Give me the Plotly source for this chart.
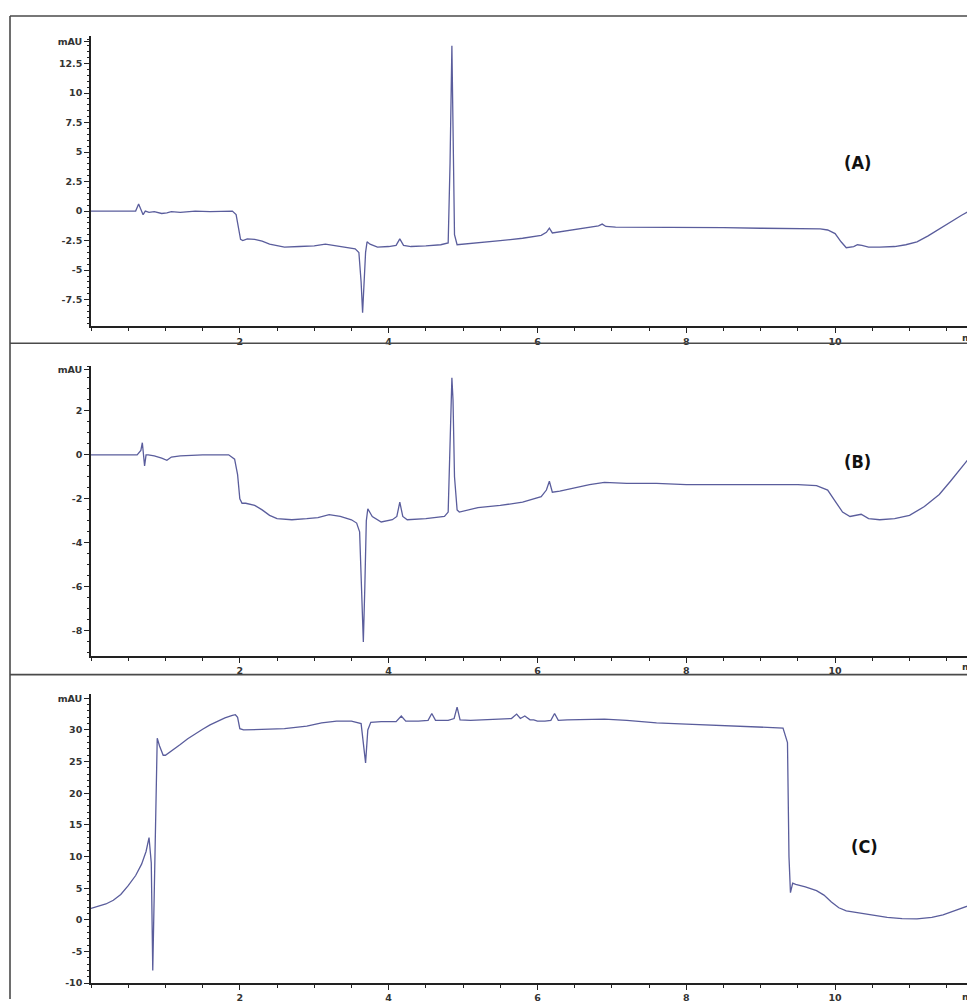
import plotly.graph_objects as go

# ---------------- data (retention time in min, signal in mAU) ----------------
time_A = [0, 0.6, 0.64, 0.67, 0.70, 0.73, 0.78, 0.85, 0.95, 1.02, 1.08, 1.2, 1.4, 1.6, 1.8, 1.9,
          1.95, 1.98, 2.01, 2.04, 2.1, 2.2, 2.3, 2.4, 2.5, 2.6, 2.8, 3.0, 3.15, 3.3, 3.45, 3.55,
          3.6, 3.63, 3.65, 3.67, 3.69, 3.71, 3.75, 3.85, 4.0, 4.1, 4.15, 4.2, 4.3, 4.5, 4.7,
          4.8, 4.825, 4.85, 4.865, 4.885, 4.92, 5.2, 5.5, 5.8, 6.05, 6.12, 6.16, 6.2, 6.3,
          6.5, 6.7, 6.82, 6.87, 6.92, 7.05, 7.5, 8.0, 8.5, 9.0, 9.5, 9.8, 9.9, 10.0, 10.08,
          10.15, 10.25, 10.3, 10.36, 10.45, 10.6, 10.8, 10.95, 11.1, 11.25, 11.4, 11.55, 11.7,
          11.8, 11.88]
mau_A = [0, 0, 0.6, 0.1, -0.3, 0.0, -0.1, -0.05, -0.2, -0.15, -0.05, -0.1, 0, -0.05, 0, 0,
         -0.3, -1.5, -2.4, -2.5, -2.35, -2.4, -2.55, -2.8, -2.95, -3.05, -3.0, -2.95, -2.8,
         -2.95, -3.05, -3.2, -3.5, -6.0, -8.6, -6.5, -3.5, -2.6, -2.8, -3.05, -3.0, -2.9, -2.35,
         -2.9, -3.0, -2.95, -2.85, -2.7, 4.0, 14.0, 8.0, -2.0, -2.85, -2.7, -2.5, -2.3, -2.05,
         -1.8, -1.45, -1.85, -1.75, -1.55, -1.35, -1.25, -1.1, -1.3, -1.35, -1.35, -1.4, -1.4,
         -1.45, -1.45, -1.5, -1.6, -1.9, -2.6, -3.1, -3.0, -2.85, -2.9, -3.05, -3.05, -3.0,
         -2.85, -2.6, -2.1, -1.5, -0.9, -0.35, 0.0, 0.2]

time_B = [0, 0.62, 0.67, 0.69, 0.72, 0.74, 0.77, 0.85, 0.95, 1.02, 1.08, 1.2, 1.5, 1.85,
          1.93, 1.97, 2.0, 2.03, 2.08, 2.2, 2.3, 2.4, 2.5, 2.7, 2.9, 3.05, 3.2, 3.35, 3.5, 3.57,
          3.61, 3.64, 3.66, 3.68, 3.70, 3.72, 3.78, 3.9, 4.05, 4.11, 4.15, 4.19, 4.25, 4.5,
          4.75, 4.80, 4.825, 4.85, 4.865, 4.885, 4.92, 4.95, 5.2, 5.5, 5.8, 6.05, 6.12, 6.16,
          6.2, 6.3, 6.5, 6.7, 6.9, 7.2, 7.6, 8.0, 8.5, 9.0, 9.5, 9.75, 9.9, 10.0, 10.1, 10.2,
          10.28, 10.35, 10.45, 10.6, 10.8, 11.0, 11.2, 11.4, 11.55, 11.7, 11.8, 11.88]
mau_B = [0, 0, 0.2, 0.55, -0.5, 0, 0, -0.05, -0.15, -0.25, -0.1, -0.05, 0, 0, -0.2, -0.9,
         -2.0, -2.2, -2.2, -2.3, -2.5, -2.75, -2.9, -2.95, -2.9, -2.85, -2.72, -2.8, -2.95,
         -3.1, -3.5, -6.5, -8.5, -6.0, -3.0, -2.45, -2.8, -3.05, -2.95, -2.8, -2.15, -2.8,
         -2.95, -2.9, -2.8, -2.6, 1.0, 3.5, 2.5, -1.0, -2.5, -2.6, -2.4, -2.3, -2.15, -1.9,
         -1.6, -1.2, -1.7, -1.65, -1.5, -1.35, -1.25, -1.3, -1.3, -1.35, -1.35, -1.35, -1.35,
         -1.4, -1.6, -2.1, -2.6, -2.8, -2.75, -2.7, -2.9, -2.95, -2.9, -2.75, -2.35, -1.8,
         -1.2, -0.55, -0.15, 0.1]

time_C = [0, 0.1, 0.2, 0.3, 0.4, 0.5, 0.6, 0.68, 0.74, 0.78, 0.81, 0.83, 0.85, 0.87, 0.89,
          0.92, 0.97, 1.0, 1.1, 1.2, 1.3, 1.4, 1.5, 1.6, 1.7, 1.8, 1.9, 1.94, 1.97, 2.0, 2.05,
          2.3, 2.6, 2.9, 3.1, 3.3, 3.5, 3.63, 3.66, 3.69, 3.72, 3.76, 3.9, 4.1, 4.17, 4.23,
          4.4, 4.53, 4.58, 4.63, 4.8, 4.88, 4.92, 4.96, 5.1, 5.4, 5.65, 5.72, 5.77, 5.83, 5.9,
          5.95, 6.0, 6.1, 6.18, 6.23, 6.28, 6.4, 6.6, 6.9, 7.2, 7.6, 8.0, 8.5, 9.0, 9.3, 9.36,
          9.38, 9.40, 9.43, 9.47, 9.6, 9.75, 9.85, 9.95, 10.05, 10.15, 10.3, 10.5, 10.7, 10.9,
          11.1, 11.3, 11.45, 11.6, 11.75, 11.88]
mau_C = [1.8, 2.1, 2.5, 3.1, 4.0, 5.4, 7.0, 8.8, 10.8, 13.0, 9.0, -8.0, 5.0, 20.0, 28.7,
         27.5, 26.0, 26.0, 26.8, 27.7, 28.6, 29.4, 30.1, 30.8, 31.4, 31.9, 32.3, 32.4, 32.0,
         30.2, 30.0, 30.1, 30.2, 30.6, 31.1, 31.4, 31.4, 31.0, 28.0, 24.8, 30.0, 31.2, 31.3,
         31.3, 32.2, 31.4, 31.4, 31.5, 32.6, 31.5, 31.5, 31.8, 33.6, 31.6, 31.5, 31.6, 31.8,
         32.5, 31.8, 32.2, 31.6, 31.6, 31.4, 31.4, 31.5, 32.6, 31.5, 31.6, 31.6, 31.7, 31.5,
         31.1, 30.9, 30.7, 30.5, 30.3, 28.0, 10.0, 4.3, 5.8, 5.6, 5.2, 4.6, 3.9, 2.8, 1.9,
         1.4, 1.1, 0.7, 0.4, 0.2, 0.15, 0.4, 0.8, 1.4, 2.0, 2.6]

panel_labels = ["(A)", "(B)", "(C)"]
x_tick_vals = [2, 4, 6, 8, 10]
y_ticks_A = [-7.5, -5, -2.5, 0, 2.5, 5, 7.5, 10, 12.5]
y_ticks_B = [-8, -6, -4, -2, 0, 2]
y_ticks_C = [-10, -5, 0, 5, 10, 15, 20, 25, 30]
unit_pos = [14.35, 3.89, 35.0]

for a, b in [(time_A, mau_A), (time_B, mau_B), (time_C, mau_C)]:
    assert len(a) == len(b), (len(a), len(b))

# ---------------- figure ----------------
# the page body has an 8px margin, so positions are measured from the screenshot and shifted
OFF = 8
W, H = 975 - OFF, 1004 - OFF


def fx(p):
    return (p - OFF) / W


def fy(p):
    return 1 - (p - OFF) / H


LINE = "#5a5d9c"
AX = "#222222"
tickfont = dict(family="DejaVu Sans, Liberation Sans, sans-serif", size=9.5, color="#333333",
                weight="bold")

fig = go.Figure()
series = [(time_A, mau_A), (time_B, mau_B), (time_C, mau_C)]
for i, (t, v) in enumerate(series):
    sfx = "" if i == 0 else str(i + 1)
    fig.add_trace(go.Scatter(x=t, y=v, mode="lines", line=dict(color=LINE, width=1.3),
                             xaxis="x" + sfx, yaxis="y" + sfx, showlegend=False,
                             hoverinfo="x+y"))

ydomains = [[fy(326), fy(33)], [fy(658), fy(366)], [fy(988), fy(697)]]
yranges = [[-9.77, 14.85], [-9.13, 4.03], [-10, 35.6]]
yticks = [y_ticks_A, y_ticks_B, y_ticks_C]
yminor = [0.5, 0.5, 1]
xdomain = [fx(91), 1]

layout = dict(width=W, height=H, margin=dict(l=0, r=0, t=0, b=0),
              paper_bgcolor="white", plot_bgcolor="white")
for i in range(3):
    sfx = "" if i == 0 else str(i + 1)
    layout["xaxis" + sfx] = dict(
        domain=xdomain, range=[0, 11.88], anchor="y" + sfx,
        showgrid=False, zeroline=False, showline=True, linecolor=AX, linewidth=1.5,
        tickmode="array", tickvals=x_tick_vals, ticktext=[str(x) for x in x_tick_vals],
        ticks="outside", ticklen=5, tickwidth=1.2, tickcolor=AX, tickfont=tickfont,
        minor=dict(dtick=0.5, tick0=0, ticks="outside", ticklen=3, tickwidth=1, tickcolor=AX),
        fixedrange=True)
    tv = yticks[i] + [unit_pos[i]]
    tt = ["%g" % v for v in yticks[i]] + ["mAU"]
    layout["yaxis" + sfx] = dict(
        domain=ydomains[i], range=yranges[i], anchor="x" + sfx,
        showgrid=False, zeroline=False, showline=True, linecolor=AX, linewidth=1.5,
        tickmode="array", tickvals=tv, ticktext=tt,
        ticks="outside", ticklen=5, tickwidth=1.2, tickcolor=AX, tickfont=tickfont,
        minor=dict(dtick=yminor[i], tick0=0, ticks="outside", ticklen=2.5, tickwidth=1,
                   tickcolor=AX),
        fixedrange=True)
fig.update_layout(**layout)

# frame lines around the panels
frame = "#4a4a4a"
shapes = []
for y in [13, 343, 677]:
    shapes.append(dict(type="line", xref="paper", yref="paper", x0=fx(10), x1=1,
                       y0=fy(y), y1=fy(y), line=dict(color=frame, width=1.6)))
shapes.append(dict(type="line", xref="paper", yref="paper", x0=fx(10), x1=fx(10),
                   y0=0, y1=fy(13), line=dict(color=frame, width=1.6)))
fig.update_layout(shapes=shapes)

# panel labels and the clipped "min" unit
lab_pos = [(857, 161), (857, 462), (864, 850)]
for (px, py), txt in zip(lab_pos, panel_labels):
    fig.add_annotation(x=fx(px), y=fy(py), xref="paper", yref="paper", text="<b>%s</b>" % txt,
                       showarrow=False, xanchor="center", yanchor="middle",
                       font=dict(family="Liberation Sans Narrow, DejaVu Sans Condensed, Liberation Sans, sans-serif",
                                 size=18, color="#111111"))
for yb in [337, 669, 1001]:
    fig.add_annotation(x=fx(960), y=fy(yb), xref="paper", yref="paper", text="min",
                       showarrow=False, xanchor="left", yanchor="middle", font=tickfont)

fig.write_html("out.html")
